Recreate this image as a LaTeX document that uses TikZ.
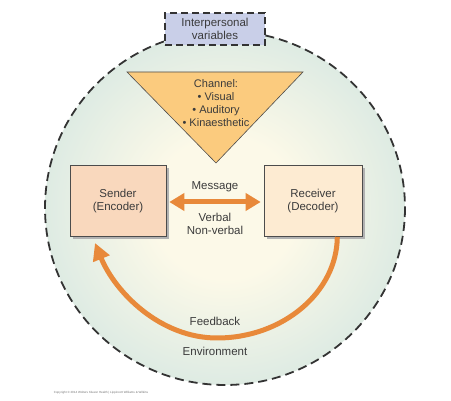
\documentclass[tikz,border=0pt]{standalone}
\usepackage{fontspec}
\setmainfont{Liberation Sans}
\usetikzlibrary{arrows.meta,shadows}

\definecolor{envin}{HTML}{FCF9E8}
\definecolor{envout}{HTML}{C4DFDF}
\definecolor{lavender}{HTML}{C9CFE8}
\definecolor{chanfill}{HTML}{FBCB7E}
\definecolor{sendfill}{HTML}{F9D8BD}
\definecolor{recvfill}{HTML}{FDEBD2}
\definecolor{arroworange}{HTML}{E8893A}
\definecolor{txt}{HTML}{3B3B3B}

\pgfdeclareradialshading{envshade}{\pgfpoint{0bp}{0bp}}{color(0bp)=(envin); color(10bp)=(envin); color(38bp)=(envout); color(50bp)=(envout)}

\tikzset{
  note/.style={text=txt, font=\fontsize{11.5}{13.5}\selectfont, align=center},
  party/.style={note, draw=black!70, line width=0.6pt, minimum height=71pt,
    drop shadow={shadow xshift=2.5pt, shadow yshift=-2.5pt, fill=black!30, opacity=1}},
  flow/.style={draw=arroworange, line width=5pt},
}

\begin{document}
\begin{tikzpicture}[x=1pt, y=-1pt]
    \useasboundingbox (0,0) rectangle (451,401);

    % environment
    \draw[shading=envshade, draw=black!80, line width=1.8pt, dash pattern=on 9pt off 5pt]
        (225,208) ellipse [x radius=180, y radius=177];

    \node[note, draw=black!80, fill=lavender, line width=1.5pt, dash pattern=on 7pt off 4pt,
          minimum width=100pt, minimum height=32pt] (interp) at (215,29) {Interpersonal\\variables};

    % channel
    \draw[fill=chanfill, draw=black!70, line width=0.6pt] (127,72) -- (303,72) -- (216,163) -- cycle;
    \node[note, font=\fontsize{11}{12.8}\selectfont] (channel) at (216,103)
        {Channel:\\• Visual\\• Auditory\\• Kinaesthetic};

    \node[party, fill=sendfill, minimum width=96pt] (sender) at (118,201) {Sender\\(Encoder)};
    \node[party, fill=recvfill, minimum width=98pt] (receiver) at (313,201) {Receiver\\(Decoder)};

    \draw[flow, {Triangle[width=17pt,length=15pt]}-{Triangle[width=17pt,length=15pt]},
          shorten <=3pt, shorten >=3pt] ([yshift=-1pt]sender.east) -- ([yshift=-1pt]receiver.west);
    \node[note] (message) at (215,187) {Message};
    \node[note] (verbal) at (215,224) {Verbal\\Non-verbal};

    % feedback
    \coordinate (fbend) at (95,243);
    \draw[flow, -{Triangle[width=17pt,length=17pt]}]
        ([xshift=-25pt]receiver.south east) .. controls (337,292) and (283,338) .. (217,338)
        .. controls (160,338) and (115,292) .. (fbend);
    \node[note] (feedback) at (215,321) {Feedback};
    \node[note] (env) at (215,351) {Environment};

    \node[text=black!55, font=\fontsize{3}{3.5}\selectfont] (copy) at (101,393)
        {Copyright © 2014 Wolters Kluwer Health | Lippincott Williams \& Wilkins};
\end{tikzpicture}
\end{document}
